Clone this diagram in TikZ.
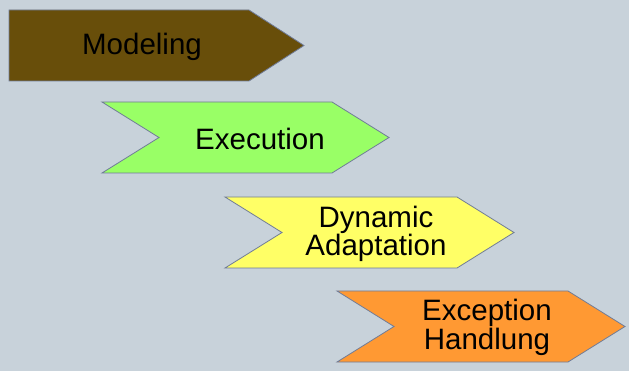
\documentclass[tikz,border=0pt]{standalone}
\usepackage{fontspec}
\setmainfont{Liberation Sans}
\usepackage{tikz}
\definecolor{slide}{RGB}{200,210,218}
\definecolor{edge}{RGB}{112,124,152}
\definecolor{modelbrown}{RGB}{104,78,10}
\definecolor{execgreen}{RGB}{153,255,102}
\definecolor{adaptyellow}{RGB}{255,255,102}
\definecolor{excorange}{RGB}{255,153,51}
\tikzstyle{phase}=[draw=edge,line width=0.8pt,line join=miter]
\tikzstyle{phaselabel}=[align=center,inner sep=0pt,
                        font=\fontsize{29.5}{26}\selectfont]

\begin{document}
\begin{tikzpicture}[x=1pt,y=-1pt]
    \newcommand{\tip}{57}
    \newcommand{\half}{35.5}
    % chevron: left edge, start of point, middle line, fill
    \newcommand{\chevron}[4]{%
      \fill[phase,fill=#4] (#1,#3-\half) -- (#2,#3-\half) -- (#2+\tip,#3)
        -- (#2,#3+\half) -- (#1,#3+\half) -- (#1+\tip,#3) -- cycle;}
    \fill[slide] (0,0) rectangle (629,371);
    \useasboundingbox (0,0) rectangle (629,371);
    % first one has a flat back
    \filldraw[phase,fill=modelbrown] (9,10) -- (249,10) -- (249+55,45.5)
      -- (249,81) -- (9,81) -- cycle;
    \chevron{102}{332}{137.5}{execgreen}
    \chevron{225}{457}{232.5}{adaptyellow}
    \chevron{337}{568}{326.5}{excorange}
    \node (modeling) at (142,47) [phaselabel]{Modeling};
    \node (execution) at (260,138.5) [phaselabel]{Execution};
    \node (adaptation) at (376,234) [phaselabel]{Dynamic\\Adaptation};
    \node (handling) at (487,327.5) [phaselabel]{Exception\\Handlung};
\end{tikzpicture}
\end{document}
